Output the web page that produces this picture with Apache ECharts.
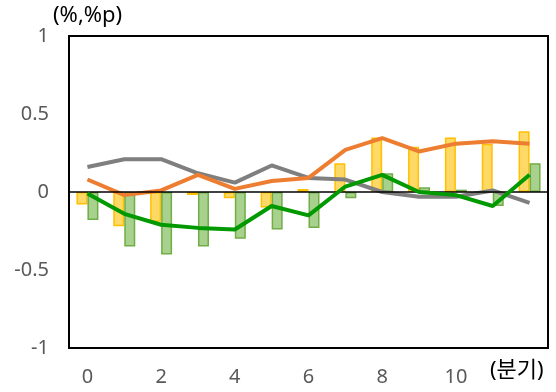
<!DOCTYPE html>
<html>
<head>
<meta charset="utf-8">
<script src="https://cdn.jsdelivr.net/npm/echarts@6/dist/echarts.min.js"></script>
<style>
  html, body { margin: 0; padding: 0; background: #fff; }
  #chart { width: 556px; height: 392px; }
</style>
</head>
<body>
<div id="chart"></div>
<script>
// Quarters after the shock
const quarters = ['0','1','2','3','4','5','6','7','8','9','10','11','12'];

// Bar series
const barYellow = [-0.08, -0.22, -0.19, -0.02, -0.04, -0.10, 0.02, 0.185, 0.35, 0.29, 0.35, 0.31, 0.39];
const barGreen  = [-0.18, -0.35, -0.40, -0.35, -0.30, -0.24, -0.23, -0.04, 0.12, 0.03, 0.015, -0.09, 0.185];

// Line series
const lineGray   = [0.16, 0.21, 0.21, 0.12, 0.06, 0.17, 0.09, 0.08, 0.0, -0.03, -0.03, 0.01, -0.07];
const lineOrange = [0.08, -0.02, 0.01, 0.11, 0.02, 0.07, 0.09, 0.27, 0.345, 0.26, 0.31, 0.325, 0.31];
const lineGreen  = [-0.01, -0.14, -0.21, -0.23, -0.24, -0.09, -0.15, 0.035, 0.11, 0.0, -0.02, -0.09, 0.11];

const yTicks = [-1, -0.5, 0, 0.5, 1];
const unitLabel = '(%,%p)';
const xUnitLabel = '(분기)';

const FONT = '"Noto Sans", "Noto Sans CJK KR", sans-serif';
const chart = echarts.init(document.getElementById('chart'), null, { renderer: 'canvas' });

function lineSeries(data, color, z) {
  return {
    type: 'line', data: data, symbol: 'none', z: z,
    lineStyle: { color: color, width: 4 },
    itemStyle: { color: color }
  };
}

chart.setOption({
  animation: false,
  grid: {
    left: 69, right: 8, top: 36, bottom: 44,
    show: true, borderColor: '#000', borderWidth: 2, backgroundColor: 'transparent'
  },
  xAxis: {
    type: 'category', data: quarters,
    axisLine: { show: false, onZero: false },
    axisTick: { show: false },
    axisLabel: {
      interval: function (i) { return i % 2 === 0 && i < 12; },
      color: '#595959', fontSize: 20, fontFamily: FONT, margin: 19
    }
  },
  yAxis: {
    type: 'value', min: yTicks[0], max: yTicks[yTicks.length - 1], interval: 0.5,
    axisLine: { show: false }, axisTick: { show: false }, splitLine: { show: false },
    axisLabel: {
      color: '#595959', fontSize: 20, fontFamily: FONT, margin: 20,
      padding: [7, 0, 0, 0],
      formatter: function (v) { return yTicks.indexOf(v) >= 0 ? String(v) : ''; }
    }
  },
  graphic: [
    { type: 'text', left: 53, top: 5,
      style: { text: unitLabel, fill: '#000', font: '22px ' + FONT } },
    { type: 'text', left: 490, top: 360,
      style: { text: xUnitLabel, fill: '#000', font: '22px ' + FONT } }
  ],
  series: [
    {
      type: 'bar', data: barYellow, barWidth: 11, barGap: '0%', z: 2,
      itemStyle: { color: '#FFD966', borderColor: '#FFC000', borderWidth: 1.5 },
      markLine: {
        silent: true, symbol: 'none', label: { show: false },
        lineStyle: { color: '#000', width: 1.5, type: 'solid' },
        data: [{ yAxis: 0 }]
      }
    },
    {
      type: 'bar', data: barGreen, barWidth: 11, z: 2,
      itemStyle: { color: '#A9D18E', borderColor: '#70AD47', borderWidth: 1.5 }
    },
    lineSeries(lineGray, '#7F7F7F', 3),
    lineSeries(lineOrange, '#ED7D31', 4),
    lineSeries(lineGreen, '#009900', 5)
  ]
});
</script>
</body>
</html>
